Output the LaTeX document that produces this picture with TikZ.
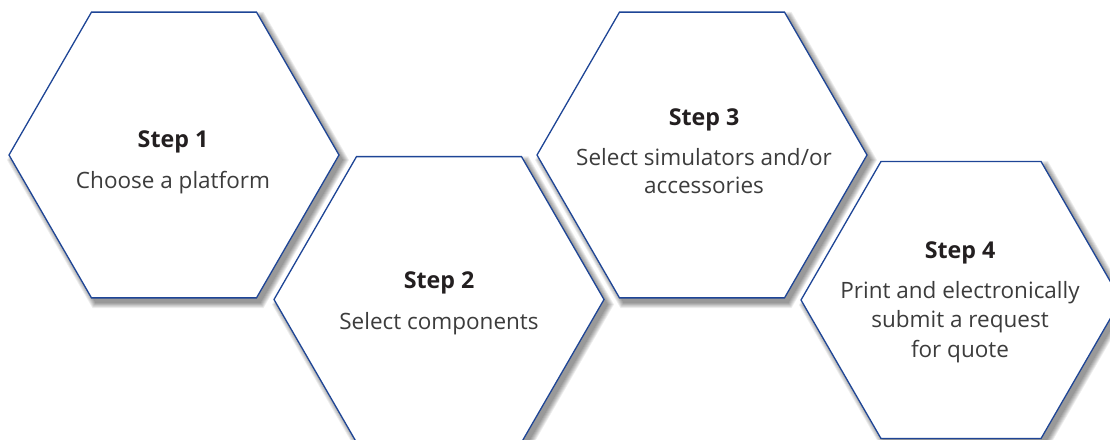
\documentclass[tikz,border=0pt]{standalone}
\usepackage{fontspec}
\setmainfont{Open Sans}
\usetikzlibrary{shapes.geometric}
\definecolor{hexblue}{HTML}{1E4596}
\definecolor{bodygray}{HTML}{3C3C3C}
\definecolor{headgray}{HTML}{231F20}
\tikzset{
  hexbox/.style={regular polygon, regular polygon sides=6, draw=hexblue, line width=1.3pt,
    fill=white, inner sep=0pt, outer sep=0pt, minimum size=#1},
  hexshade/.style={regular polygon, regular polygon sides=6, fill=black, draw=none,
    inner sep=0pt, outer sep=0pt, minimum size=#1},
  headtext/.style={anchor=base, font=\fontsize{23.2}{27}\selectfont\bfseries, text=headgray, inner sep=0pt},
  bodytext/.style={anchor=base, font=\fontsize{22.5}{29}\selectfont, text=bodygray, inner sep=0pt, align=center}
}
\begin{document}
\begin{tikzpicture}[x=1pt,y=-1pt]
\useasboundingbox (0,0) rectangle (1110,439);
\clip (0,0) rectangle (1110,439);
% shadows
\foreach \cx/\cy/\r in {174/155/330, 439/299.5/330, 702/155/330, 961/300/320}{
  \foreach \k in {0,1,2,3,4,5,6}{
    \node[hexshade=\r+2*\k, opacity=0.07] at (\cx+4,\cy+5) {};
  }
}
% hexagons
\node[hexbox=330] (h1) at (174,155) {};
\node[hexbox=330] (h2) at (439,299.5) {};
\node[hexbox=330] (h3) at (702,155) {};
\node[hexbox=320] (h4) at (961,300) {};
% texts
\node[headtext] (s1) at (173,147) {Step 1};
\node[bodytext] (b1) at (173,188) {Choose a platform};
\node[headtext] (s2) at (439,288) {Step 2};
\node[bodytext] (b2) at (439,329) {Select components};
\node[headtext] (s3) at (704,125) {Step 3};
\node[bodytext] (b3a) at (704,165) {Select simulators and/or};
\node[bodytext] (b3b) at (704,193) {accessories};
\node[headtext] (s4) at (960,258) {Step 4};
\node[bodytext] (b4a) at (960,298) {Print and electronically};
\node[bodytext] (b4b) at (960,327) {submit a request};
\node[bodytext] (b4c) at (960,357) {for quote};
\end{tikzpicture}
\end{document}
